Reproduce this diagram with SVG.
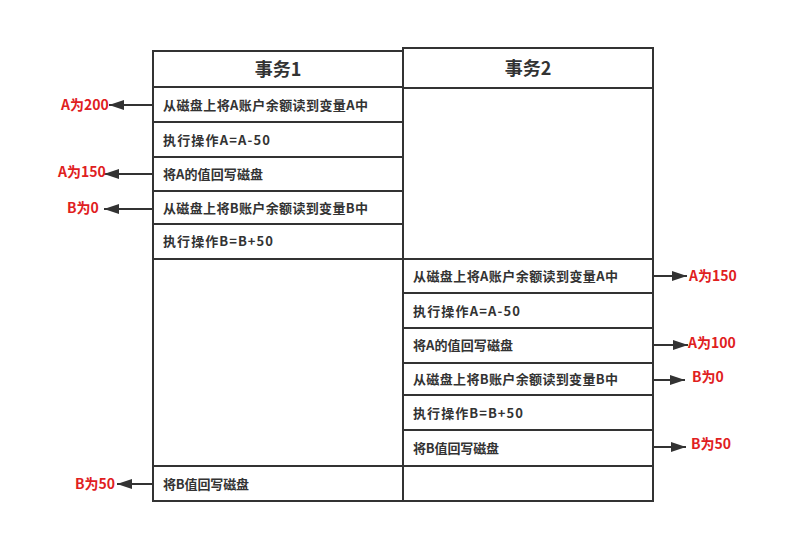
<svg xmlns="http://www.w3.org/2000/svg" width="797" height="558" viewBox="0 0 797 558">
<defs>
<style>
.cell{fill:#ffffff;stroke:#333333;stroke-width:2}
.hd{font-family:"Noto Sans CJK SC","Liberation Sans",sans-serif;font-size:18px;font-weight:bold;fill:#333333;text-anchor:middle}
.tx{font-family:"Noto Sans CJK SC","Liberation Sans",sans-serif;font-size:13px;font-weight:bold;fill:#333333}
.rd{font-family:"Noto Sans CJK SC","Liberation Sans",sans-serif;font-size:14px;font-weight:bold;fill:#e0201e}
.ar{stroke:#333333;stroke-width:2;fill:none;marker-end:url(#ah)}
</style>
<marker id="ah" viewBox="0 0 15 10" refX="15" refY="5" markerWidth="15" markerHeight="10" markerUnits="userSpaceOnUse" orient="auto">
<path d="M0,0 L15,5 L0,10 Z" fill="#333333"/>
</marker>
</defs>
<rect width="797" height="558" fill="#ffffff"/>

<g id="t1-header"><rect class="cell" x="153" y="51" width="250" height="36"/><text class="hd" x="278" y="76">事务1</text></g>
<g id="t1-read-a"><rect class="cell" x="153" y="87" width="250" height="35"/><text class="tx" x="163" y="109.5" textLength="205" lengthAdjust="spacing">从磁盘上将A账户余额读到变量A中</text></g>
<g id="t1-op-a"><rect class="cell" x="153" y="122" width="250" height="35"/><text class="tx" x="163" y="144.5" textLength="107" lengthAdjust="spacing">执行操作A=A-50</text></g>
<g id="t1-write-a"><rect class="cell" x="153" y="157" width="250" height="34"/><text class="tx" x="163" y="178.5" textLength="100" lengthAdjust="spacing">将A的值回写磁盘</text></g>
<g id="t1-read-b"><rect class="cell" x="153" y="191" width="250" height="33"/><text class="tx" x="163" y="212.5" textLength="205" lengthAdjust="spacing">从磁盘上将B账户余额读到变量B中</text></g>
<g id="t1-op-b"><rect class="cell" x="153" y="224" width="250" height="35"/><text class="tx" x="163" y="245.5" textLength="110" lengthAdjust="spacing">执行操作B=B+50</text></g>
<g id="t1-empty"><rect class="cell" x="153" y="259" width="250" height="207"/></g>
<g id="t1-write-b"><rect class="cell" x="153" y="466" width="250" height="35"/><text class="tx" x="163" y="488.5" textLength="86" lengthAdjust="spacing">将B值回写磁盘</text></g>

<g id="t2-header"><rect class="cell" x="403" y="48" width="250" height="40"/><text class="hd" x="528" y="75">事务2</text></g>
<g id="t2-empty-top"><rect class="cell" x="403" y="88" width="250" height="171"/></g>
<g id="t2-read-a"><rect class="cell" x="403" y="259" width="250" height="34"/><text class="tx" x="413" y="280.5" textLength="205" lengthAdjust="spacing">从磁盘上将A账户余额读到变量A中</text></g>
<g id="t2-op-a"><rect class="cell" x="403" y="293" width="250" height="35"/><text class="tx" x="413" y="315.5" textLength="107" lengthAdjust="spacing">执行操作A=A-50</text></g>
<g id="t2-write-a"><rect class="cell" x="403" y="328" width="250" height="35"/><text class="tx" x="413" y="349.5" textLength="100" lengthAdjust="spacing">将A的值回写磁盘</text></g>
<g id="t2-read-b"><rect class="cell" x="403" y="363" width="250" height="32"/><text class="tx" x="413" y="383.5" textLength="205" lengthAdjust="spacing">从磁盘上将B账户余额读到变量B中</text></g>
<g id="t2-op-b"><rect class="cell" x="403" y="395" width="250" height="35"/><text class="tx" x="413" y="417.5" textLength="110" lengthAdjust="spacing">执行操作B=B+50</text></g>
<g id="t2-write-b"><rect class="cell" x="403" y="430" width="250" height="36"/><text class="tx" x="413" y="452.5" textLength="86" lengthAdjust="spacing">将B值回写磁盘</text></g>
<g id="t2-empty-bottom"><rect class="cell" x="403" y="466" width="250" height="35"/></g>

<g id="connectors">
<line class="ar" x1="153" y1="105" x2="109" y2="105"/>
<line class="ar" x1="153" y1="174" x2="104" y2="174"/>
<line class="ar" x1="153" y1="209" x2="104" y2="209"/>
<line class="ar" x1="153" y1="484" x2="117" y2="484"/>
<line class="ar" x1="653" y1="276" x2="687" y2="276"/>
<line class="ar" x1="653" y1="345" x2="688" y2="345"/>
<line class="ar" x1="653" y1="380" x2="685" y2="380"/>
<line class="ar" x1="653" y1="447" x2="686" y2="447"/>
</g>

<g id="values">
<text class="rd" x="61" y="110">A为200</text>
<text class="rd" x="58" y="177">A为150</text>
<text class="rd" x="67" y="213">B为0</text>
<text class="rd" x="75" y="489">B为50</text>
<text class="rd" x="689" y="281">A为150</text>
<text class="rd" x="688" y="348">A为100</text>
<text class="rd" x="692" y="382">B为0</text>
<text class="rd" x="691" y="449">B为50</text>
</g>
</svg>
